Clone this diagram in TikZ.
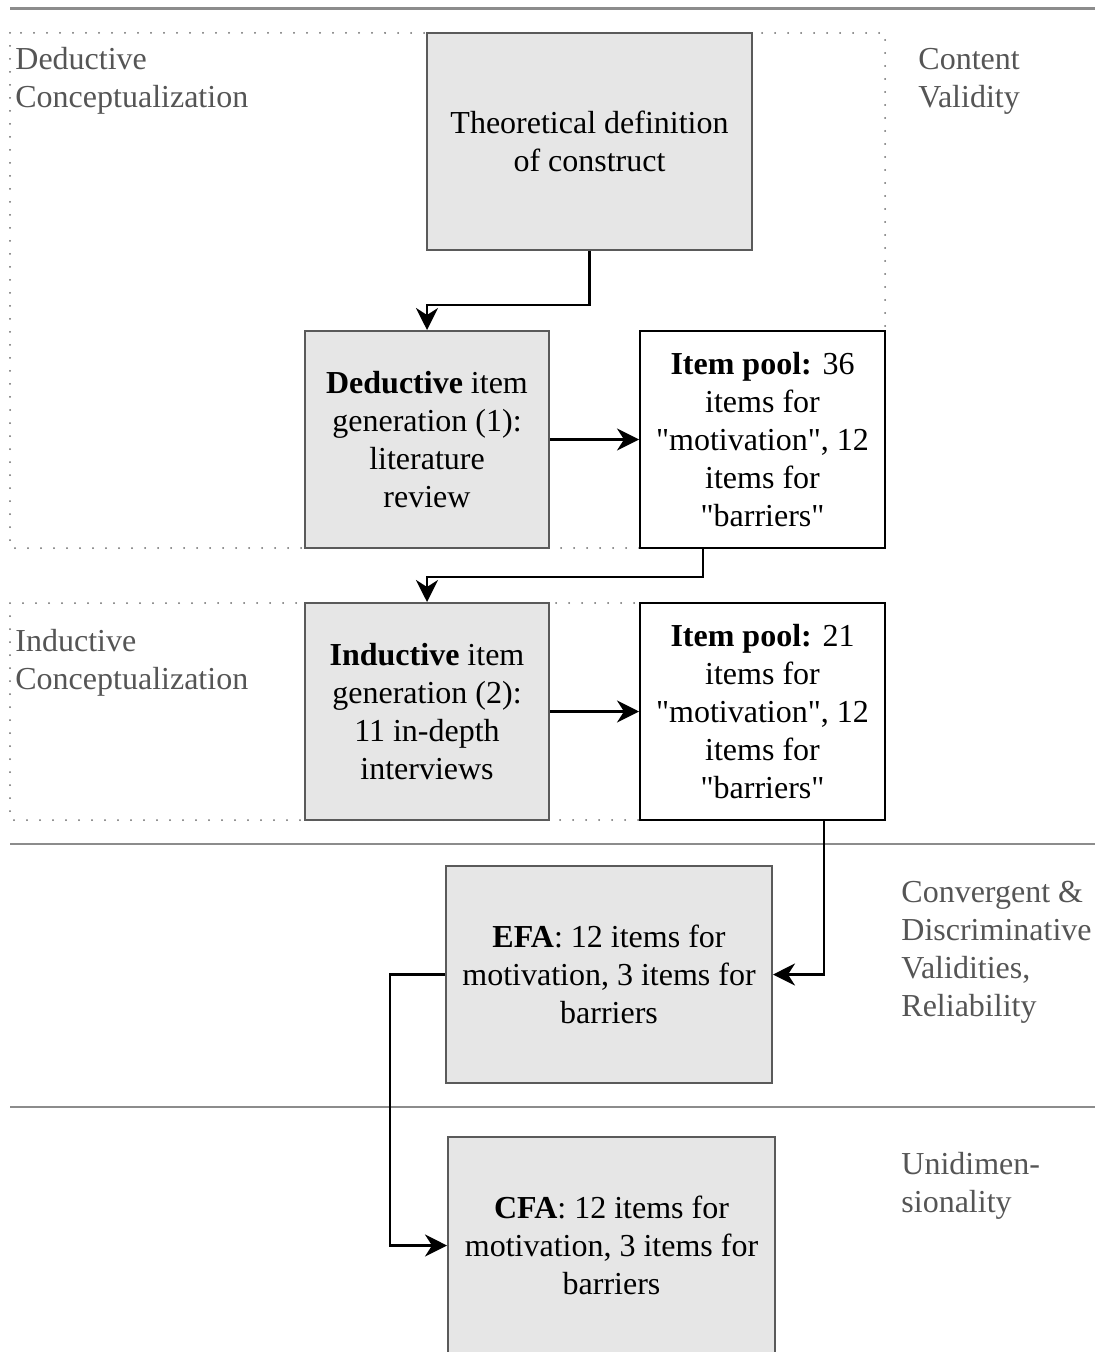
\documentclass[tikz,border=0pt]{standalone}
\usepackage{fontspec}
\setmainfont{Liberation Serif}[Ligatures=TeXOff]
\usetikzlibrary{arrows.meta,calc}
\definecolor{boxfill}{HTML}{E6E6E6}
\definecolor{boxline}{HTML}{5A5A5A}
\definecolor{labeltext}{HTML}{555555}
\definecolor{ruleline}{HTML}{8C8C8C}
\definecolor{dotline}{HTML}{6A6A6A}
\begin{document}
\begin{tikzpicture}[x=0.5pt,y=-0.5pt,
  every node/.style={font=\fontsize{16}{19}\selectfont},
  stage/.style={draw=boxline,fill=boxfill,line width=1pt,inner sep=0pt,
    align=center,minimum height=108.5pt},
  pool/.style={draw=black,fill=white,line width=1pt,inner sep=0pt,
    align=center,minimum width=122.5pt,minimum height=108.5pt},
  sidelabel/.style={text=labeltext,align=left,anchor=base west,inner sep=0pt},
  region/.style={draw=dotline,line width=1pt,line cap=round,
    dash pattern=on 0pt off 6.5pt},
  divider/.style={draw=ruleline,line width=1pt},
  flow/.style={draw=black,line width=1.2pt,
    -{Stealth[length=11pt,width=11pt,inset=3.5pt]}}]
\useasboundingbox (0,0) rectangle (1099,1352);

% section dividers
\draw[divider,line width=1.5pt] (10,9) -- (1095,9);
\draw[divider] (10,844) -- (1095,844);
\draw[divider] (10,1107) -- (1095,1107);

% dotted conceptualization regions
\draw[region] (10,33) rectangle (885,548);
\draw[region] (10,603) rectangle (885,820);

% side labels (anchored at the baseline of their last line)
\node[sidelabel] (lded) at (15,108) {Deductive\\Conceptualization};
\node[sidelabel] (lcont) at (918,108) {Content\\Validity};
\node[sidelabel] (lind) at (15,689) {Inductive\\Conceptualization};
\node[sidelabel] (lconv) at (901,1016) {Convergent \&\\Discriminative\\Validities,\\Reliability};
\node[sidelabel] (luni) at (901,1212) {Unidimen-\\sionality};

% process boxes
\node[stage,minimum width=162.5pt] (theo) at (589.5,141.5)
  {Theoretical definition\\of construct};
\node[stage,minimum width=122pt] (ded) at (427,439.5)
  {\textbf{Deductive} item\\generation (1):\\literature\\review};
\node[pool] (pool1) at (762.5,439.5)
  {\textbf{Item pool:} 36\\items for\\"motivation", 12\\items for\\"barriers"};
\node[stage,minimum width=122pt] (ind) at (427,711.5)
  {\textbf{Inductive} item\\generation (2):\\11 in-depth\\interviews};
\node[pool] (pool2) at (762.5,711.5)
  {\textbf{Item pool:} 21\\items for\\"motivation", 12\\items for\\"barriers"};
\node[stage,minimum width=163pt] (efa) at (609,974.5)
  {\textbf{EFA}: 12 items for\\motivation, 3 items for\\barriers};
\node[stage,minimum width=163.5pt] (cfa) at (611.5,1245.5)
  {\textbf{CFA}: 12 items for\\motivation, 3 items for\\barriers};

% connectors
\draw[flow] (theo.south) -- ++(0,54) -| (ded.north);
\draw[flow] (ded.east) -- (pool1.west);
\draw[flow] ($(pool1.south)+(-59.5,0)$) -- ++(0,28) -| (ind.north);
\draw[flow] (ind.east) -- (pool2.west);
\draw[flow] ($(pool2.south)+(61.5,0)$) |- (efa.east);
\draw[flow] (efa.west) -- ++(-55,0) |- (cfa.west);
\end{tikzpicture}
\end{document}
